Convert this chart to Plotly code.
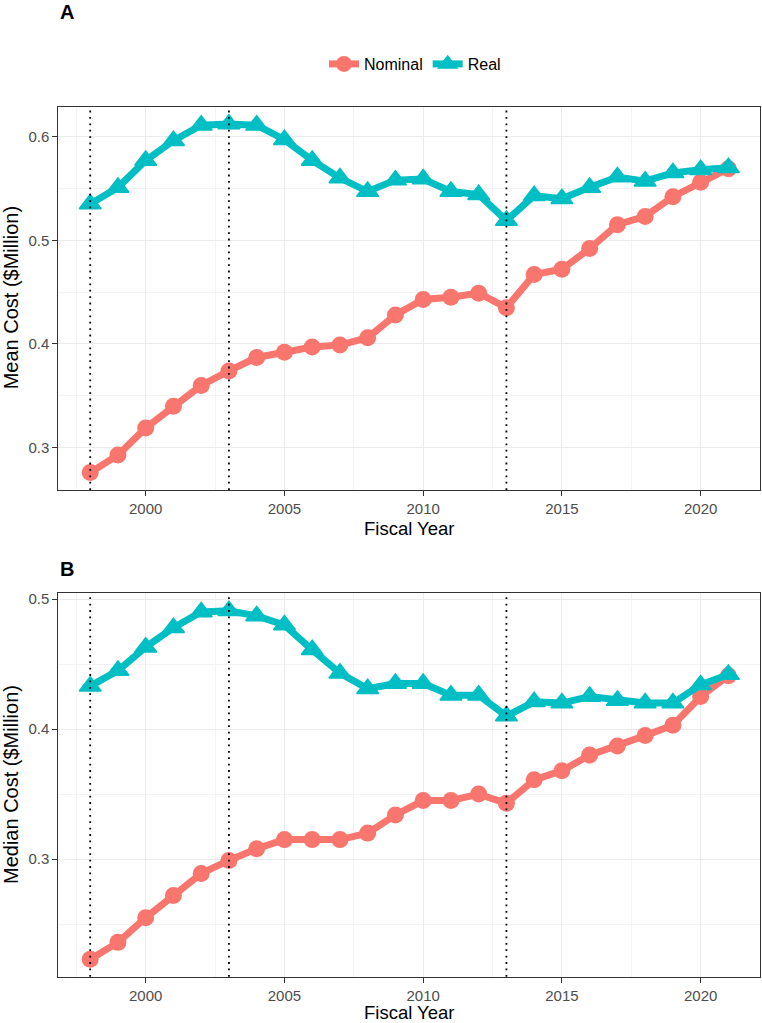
"""Mean and median cost per fiscal year, nominal vs real dollars"""
import plotly.graph_objects as go
from plotly.subplots import make_subplots

# data
years = list(range(1998, 2022))

mean_nominal = [0.276, 0.293, 0.319, 0.340, 0.360, 0.374, 0.387, 0.392, 0.397, 0.399,
                0.406, 0.428, 0.443, 0.445, 0.449, 0.435, 0.467, 0.472, 0.492, 0.515,
                0.523, 0.542, 0.556, 0.569]
mean_real = [0.535, 0.551, 0.577, 0.596, 0.611, 0.612, 0.611, 0.597, 0.577, 0.560,
             0.547, 0.558, 0.559, 0.547, 0.544, 0.519, 0.543, 0.540, 0.551, 0.561,
             0.557, 0.565, 0.568, 0.570]

median_nominal = [0.223, 0.236, 0.255, 0.272, 0.289, 0.299, 0.308, 0.315, 0.315, 0.315,
                  0.320, 0.334, 0.345, 0.345, 0.350, 0.343, 0.361, 0.368, 0.380, 0.387,
                  0.395, 0.403, 0.425, 0.441]
median_real = [0.433, 0.445, 0.463, 0.478, 0.490, 0.491, 0.487, 0.480, 0.461, 0.443,
               0.431, 0.435, 0.435, 0.426, 0.426, 0.410, 0.421, 0.420, 0.425, 0.422,
               0.420, 0.420, 0.434, 0.442]

events = [1998, 2003, 2013]

RED = "#F8766D"
CYAN = "#00BFC4"
FONT = "Liberation Sans, Arial, sans-serif"
W, H = 762, 1023


def expand(vals, mult=0.05):
    """ggplot style 5% range expansion"""
    lo, hi = min(vals), max(vals)
    r = hi - lo
    return [lo - mult * r, hi + mult * r]


fig = make_subplots(rows=2, cols=1)

panels = [(mean_nominal, mean_real, 1), (median_nominal, median_real, 2)]
for nom, real, row in panels:
    fig.add_trace(go.Scatter(x=years, y=nom, name="Nominal", mode="lines+markers",
                             line=dict(color=RED, width=7),
                             marker=dict(symbol="circle", size=17, color=RED),
                             legendgroup="nom", showlegend=(row == 1)),
                  row=row, col=1)
    fig.add_trace(go.Scatter(x=years, y=real, name="Real", mode="lines+markers",
                             line=dict(color=CYAN, width=7),
                             marker=dict(symbol="triangle-up", size=19, color=CYAN,
                                         line=dict(color=CYAN, width=1.5)),
                             legendgroup="real", showlegend=(row == 1)),
                  row=row, col=1)
    for ev in events:
        fig.add_vline(x=ev, line=dict(color="black", width=1.8, dash="1.8px,4.6px"),
                      row=row, col=1)

xdom = [58.3 / W, 760.3 / W]
ydom_a = [1 - 490 / H, 1 - 106.7 / H]
ydom_b = [1 - 976.7 / H, 1 - 593.3 / H]

axis_common = dict(showline=True, mirror=True, linecolor="#333333", linewidth=1,
                   ticks="outside", ticklen=5, tickcolor="#333333",
                   tickfont=dict(family=FONT, size=15, color="#4D4D4D"),
                   showgrid=True, gridcolor="#EBEBEB", gridwidth=1.2,
                   zeroline=False, automargin=False)

xrange = expand(years)
for i, ydom, yvals in [(1, ydom_a, mean_nominal + mean_real),
                       (2, ydom_b, median_nominal + median_real)]:
    fig.update_xaxes(domain=xdom, range=xrange, tick0=2000, dtick=5,
                     minor=dict(dtick=2.5, showgrid=True, gridcolor="#F3F3F3",
                                gridwidth=0.8),
                     row=i, col=1, **axis_common)
    fig.update_yaxes(domain=ydom, range=expand(yvals), tick0=0, dtick=0.1,
                     tickformat=".1f",
                     minor=dict(dtick=0.05, showgrid=True, gridcolor="#F3F3F3",
                                gridwidth=0.8),
                     row=i, col=1, **axis_common)

ann = []
# y axis titles
for ydom, txt in [(ydom_a, "Mean Cost ($Million)"), (ydom_b, "Median Cost ($Million)")]:
    ann.append(dict(text=txt, x=11 / W, y=(ydom[0] + ydom[1]) / 2, xref="paper", yref="paper",
                    textangle=-90, showarrow=False, xanchor="center", yanchor="middle",
                    font=dict(family=FONT, size=20, color="black")))
# x axis titles
for ypix in [528, 1012]:
    ann.append(dict(text="Fiscal Year", x=(xdom[0] + xdom[1]) / 2, y=1 - ypix / H,
                    xref="paper", yref="paper", showarrow=False,
                    xanchor="center", yanchor="middle",
                    font=dict(family=FONT, size=18.5, color="black")))
# panel tags
for ypix, tag in [(12, "A"), (569, "B")]:
    ann.append(dict(text="<b>" + tag + "</b>", x=xdom[0], y=1 - ypix / H,
                    xref="paper", yref="paper", showarrow=False,
                    xanchor="left", yanchor="middle",
                    font=dict(family=FONT, size=20, color="black")))

fig.update_layout(
    width=W, height=H,
    margin=dict(l=0, r=0, t=0, b=0),
    paper_bgcolor="white", plot_bgcolor="white",
    annotations=ann,
    legend=dict(orientation="h", x=415 / W, y=1 - 64 / H, xanchor="center",
                yanchor="middle", font=dict(family=FONT, size=16, color="black"),
                itemwidth=30, bgcolor="rgba(0,0,0,0)"),
)

# page body has an 8px default margin, drop it so the figure fills the window
fig.write_html("out.html", config={"displayModeBar": False},
               post_script="document.body.style.margin='0';")
